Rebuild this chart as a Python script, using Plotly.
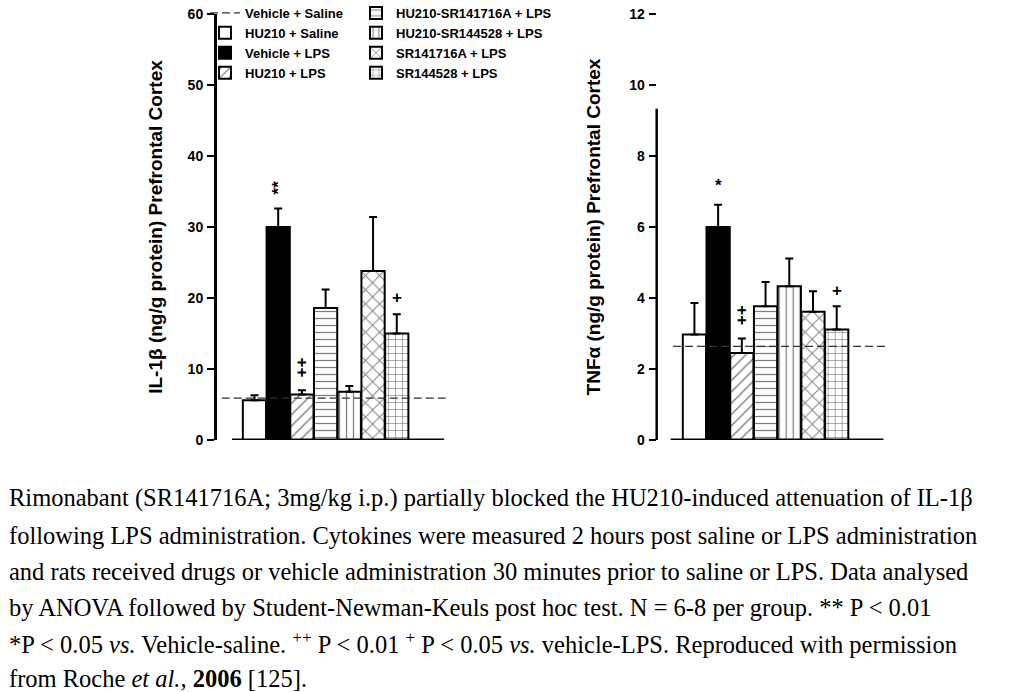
import plotly.graph_objects as go

W, H = 1024, 692

# ---------------- data ----------------
groups = ["Vehicle + Saline", "HU210 + Saline", "Vehicle + LPS", "HU210 + LPS",
          "HU210-SR141716A + LPS", "HU210-SR144528 + LPS", "SR141716A + LPS", "SR144528 + LPS"]
bar_groups = groups[1:]
il1b_mean = [5.6, 30.0, 6.4, 18.6, 6.8, 23.8, 15.0]
il1b_sem = [0.7, 2.6, 0.6, 2.6, 0.8, 7.6, 2.7]
tnfa_mean = [2.97, 6.0, 2.45, 3.77, 4.33, 3.61, 3.11]
tnfa_sem = [0.89, 0.63, 0.41, 0.68, 0.78, 0.58, 0.66]
il1b_vehicle_saline = 5.9
tnfa_vehicle_saline = 2.64

il1b_marks = ["", "**", "++", "", "", "", "+"]
tnfa_marks = ["", "*", "++", "", "", "", "+"]
il1b_mark_y = [None, 35.6, 10.2, None, None, None, 20.1]
tnfa_mark_y = [None, 7.17, 3.51, None, None, None, 4.22]

il1b_ticks = [0, 10, 20, 30, 40, 50, 60]
tnfa_ticks = [0, 2, 4, 6, 8, 10, 12]

caption_lines = [
    "Rimonabant (SR141716A; 3mg/kg i.p.) partially blocked the HU210-induced attenuation of IL-1β",
    "following LPS administration. Cytokines were measured 2 hours post saline or LPS administration",
    "and rats received drugs or vehicle administration 30 minutes prior to saline or LPS. Data analysed",
    "by ANOVA followed by Student-Newman-Keuls post hoc test. N = 6-8 per group. ** P &lt; 0.01",
    "*P &lt; 0.05 <i>vs.</i> Vehicle-saline. <sup>++</sup> P &lt; 0.01 <sup>+</sup> P &lt; 0.05 <i>vs.</i> vehicle-LPS. Reproduced with permission",
    "from Roche <i>et al.</i>, <b>2006</b> [125].",
]

# ---------------- styles ----------------
fills = ["white", "black", "white", "white", "white", "white", "white"]
patterns = ["", "", "/", "-", "|", "x", "+"]
pat_sizes = [8, 8, 8, 7, 7, 10, 7]
legend_of = ["legend", "legend", "legend", "legend2", "legend2", "legend2", "legend2"]
FONT = "Liberation Sans, Arial, sans-serif"
tickfont = dict(family=FONT, size=14, color="black", weight="bold")
legfont = dict(family=FONT, size=13, color="black", weight="bold")
titlefont = dict(family=FONT, size=19, color="black", weight="bold")
DASH = "8px,4px"

fig = go.Figure()

# reference lines (vehicle + saline)
fig.add_trace(go.Scatter(x=[-1.38, 8.1], y=[il1b_vehicle_saline] * 2, mode="lines",
                         line=dict(color="#333", width=1.2, dash=DASH),
                         name=groups[0], legend="legend", xaxis="x", yaxis="y"))
fig.add_trace(go.Scatter(x=[-0.9, 8.1], y=[tnfa_vehicle_saline] * 2, mode="lines",
                         line=dict(color="#333", width=1.2, dash=DASH),
                         name=groups[0], showlegend=False, xaxis="x2", yaxis="y2"))

for i, g in enumerate(bar_groups):
    marker = dict(color=fills[i], line=dict(color="black", width=2),
                  pattern=dict(shape=patterns[i], fgcolor="black", bgcolor=fills[i],
                               size=pat_sizes[i], solidity=0.18))
    for vals, errs, xa, ya, show in [(il1b_mean, il1b_sem, "x", "y", True),
                                     (tnfa_mean, tnfa_sem, "x2", "y2", False)]:
        fig.add_trace(go.Bar(
            x=[i], y=[vals[i]], width=0.98, name=g, marker=marker,
            error_y=dict(type="data", symmetric=False, array=[errs[i]], arrayminus=[0],
                         color="black", thickness=2, width=4),
            showlegend=show, legend=legend_of[i], xaxis=xa, yaxis=ya))

# significance marks
for marks, ys, xr, yr in [(il1b_marks, il1b_mark_y, "x", "y"), (tnfa_marks, tnfa_mark_y, "x2", "y2")]:
    for i, (m, yv) in enumerate(zip(marks, ys)):
        if m:
            fig.add_annotation(x=i, y=yv, xref=xr, yref=yr, text="<b>" + m + "</b>", showarrow=False,
                               textangle=-90 if len(m) > 1 else 0,
                               font=dict(family=FONT, size=17, color="black"))

# caption
cap_y = [498, 535, 571, 607, 643, 678]
for line, yc in zip(caption_lines, cap_y):
    fig.add_annotation(x=7 / W, y=1 - yc / H, xref="paper", yref="paper", xanchor="left",
                       yanchor="middle", text=line, showarrow=False, align="left",
                       font=dict(family="Liberation Serif, Times New Roman, serif", size=24.5,
                                 color="black"))

# axis lines drawn as baselines
fig.add_shape(type="line", xref="x", yref="y", x0=-0.95, x1=8.0, y0=0, y1=0,
              line=dict(color="black", width=3))
fig.add_shape(type="line", xref="x2", yref="y2", x0=-1.0, x1=7.97, y0=0, y1=0,
              line=dict(color="black", width=3))
fig.add_shape(type="line", xref="x2 domain", yref="y2", x0=0, x1=0, y0=0, y1=9.33,
              line=dict(color="black", width=2.5))

ydom = [1 - 440 / H, 1 - 14 / H]
common_y = dict(ticks="outside", ticklen=7, tickwidth=2, tickcolor="black",
                tickfont=tickfont, showgrid=False, zeroline=False, ticklabelstandoff=1,
                domain=ydom, automargin=False)
fig.update_layout(
    width=W, height=H, margin=dict(l=0, r=0, t=0, b=0, autoexpand=False),
    paper_bgcolor="white", plot_bgcolor="white", barmode="overlay",
    xaxis=dict(domain=[217 / W, 448 / W], range=[-1.58, 8.16], visible=False),
    xaxis2=dict(domain=[656.7 / W, 887.7 / W], range=[-1.59, 8.15], visible=False),
    yaxis=dict(range=[0, 60], tickvals=il1b_ticks, showline=True, linewidth=3,
               linecolor="black",
               title=dict(text="IL-1β (ng/g protein) Prefrontal Cortex", standoff=20,
                          font=titlefont),
               **common_y),
    yaxis2=dict(range=[0, 12], tickvals=tnfa_ticks, showline=False, anchor="x2",
                title=dict(text="TNFα (ng/g protein) Prefrontal Cortex", standoff=23,
                           font=titlefont),
                **common_y),
    legend=dict(x=205 / W, y=1 + 2 / H, xanchor="left", yanchor="top", bgcolor="rgba(0,0,0,0)",
                font=legfont, borderwidth=0, tracegroupgap=0),
    legend2=dict(x=356 / W, y=1 + 2 / H, xanchor="left", yanchor="top", bgcolor="rgba(0,0,0,0)",
                 font=legfont, borderwidth=0, tracegroupgap=0),
)

fig.write_html("out.html", config={"displayModeBar": False},
               post_script="document.body.style.margin='0';")
